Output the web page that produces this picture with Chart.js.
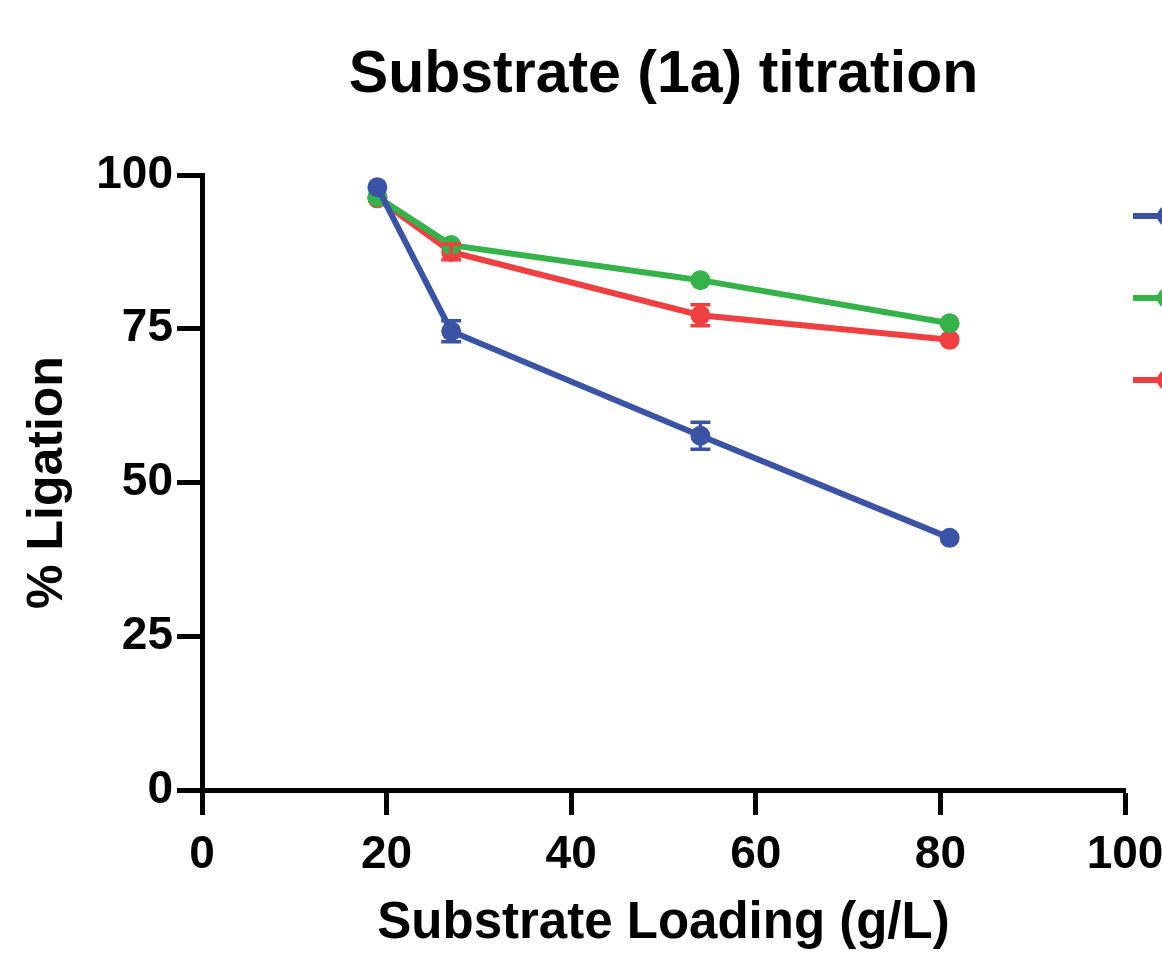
<!DOCTYPE html>
<html>
<head>
<meta charset="utf-8">
<script src="https://cdn.jsdelivr.net/npm/chart.js@4.4.1/dist/chart.umd.min.js"></script>
<style>
  html, body { margin: 0; padding: 0; background: #ffffff; overflow: hidden; }
  #wrap { width: 1162px; height: 960px; position: relative; }
</style>
</head>
<body>
<div id="wrap"><canvas id="c" width="1162" height="960"></canvas></div>
<script>
// ---- data ----
const titleText = "Substrate (1a) titration";
const xTitle = "Substrate Loading (g/L)";
const yTitle = "% Ligation";
const loadings = [19, 27, 54, 81];
const seriesLabels = ["Series 1", "Series 2", "Series 3"];
const blueValues = [98.0, 74.6, 57.6, 41.0];
const blueErrors = [0, 1.7, 2.2, 0];
const greenValues = [96.4, 88.6, 82.9, 75.9];
const greenErrors = [0, 0, 0, 0];
const redValues = [96.2, 87.5, 77.2, 73.2];
const redErrors = [0, 1.3, 1.7, 0];
const xTicks = [0, 20, 40, 60, 80, 100];
const yTicks = [0, 25, 50, 75, 100];

const colors = ["#3A53A4", "#35B34A", "#EE4040"];
const FONT = "'Liberation Sans', Arial, Helvetica, sans-serif";

function pts(vals) { return loadings.map((x, i) => ({ x: x, y: vals[i] })); }

const allValues = [blueValues, greenValues, redValues];
const allErrors = [blueErrors, greenErrors, redErrors];

const datasets = allValues.map((v, i) => ({
  label: seriesLabels[i],
  data: pts(v),
  borderColor: colors[i],
  backgroundColor: colors[i],
  borderWidth: 6,
  pointRadius: 10,
  pointHoverRadius: 10,
  pointBorderWidth: 0,
  tension: 0,
  errors: allErrors[i]
}));

const errorBarPlugin = {
  id: 'errorBars',
  afterDatasetsDraw(chart) {
    const ctx = chart.ctx;
    const xs = chart.scales.x, ys = chart.scales.y;
    ctx.save();
    chart.data.datasets.forEach((ds, di) => {
      ds.data.forEach((p, i) => {
        const e = ds.errors[i];
        if (!e) return;
        const px = xs.getPixelForValue(p.x);
        const y1 = ys.getPixelForValue(p.y + e);
        const y2 = ys.getPixelForValue(p.y - e);
        ctx.strokeStyle = ds.borderColor;
        ctx.lineWidth = 3.5;
        ctx.beginPath();
        ctx.moveTo(px, y1); ctx.lineTo(px, y2);
        ctx.moveTo(px - 10, y1); ctx.lineTo(px + 10, y1);
        ctx.moveTo(px - 10, y2); ctx.lineTo(px + 10, y2);
        ctx.stroke();
      });
    });
    ctx.restore();
  }
};

const titleLegendPlugin = {
  id: 'titleLegend',
  afterDraw(chart) {
    const ctx = chart.ctx;
    const a = chart.chartArea;
    ctx.save();
    ctx.fillStyle = '#000';
    ctx.font = "bold 59px " + FONT;
    ctx.textAlign = 'center';
    ctx.textBaseline = 'middle';
    ctx.fillText(titleText, (a.left + a.right) / 2, 76);
    // legend markers (labels lie beyond the visible page)
    const lx = a.right + 8;
    chart.data.datasets.forEach((ds, i) => {
      const y = a.top + 41 + i * 82;
      ctx.strokeStyle = ds.borderColor;
      ctx.lineWidth = 6;
      ctx.beginPath();
      ctx.moveTo(lx, y); ctx.lineTo(lx + 34, y);
      ctx.stroke();
      ctx.fillStyle = ds.backgroundColor;
      ctx.beginPath();
      ctx.arc(lx + 34, y, 10, 0, Math.PI * 2);
      ctx.fill();
    });
    ctx.restore();
  }
};

new Chart(document.getElementById('c'), {
  type: 'line',
  data: { datasets: datasets },
  options: {
    responsive: false,
    animation: false,
    layout: { padding: { top: 175, right: 37, left: 0, bottom: 0 } },
    plugins: {
      legend: { display: false },
      title: { display: false },
      tooltip: { enabled: false }
    },
    scales: {
      x: {
        type: 'linear',
        min: 0, max: 100,
        afterBuildTicks: s => { s.ticks = xTicks.map(v => ({ value: v })); },
        afterFit: s => { s.height = 170; s.paddingLeft = 0; s.paddingRight = 0; },
        grid: { drawOnChartArea: false, drawTicks: true, tickLength: 25, tickWidth: 5, tickColor: '#000' },
        border: { display: true, width: 5, color: '#000' },
        ticks: { color: '#000', padding: 13, font: { family: FONT, size: 46, weight: 'bold' }, maxRotation: 0 },
        title: { display: true, text: xTitle, color: '#000', font: { family: FONT, size: 51, weight: 'bold', lineHeight: 1.2 }, padding: { top: 0, bottom: 5 } }
      },
      y: {
        type: 'linear',
        min: 0, max: 100,
        afterBuildTicks: s => { s.ticks = yTicks.map(v => ({ value: v })); },
        afterFit: s => { s.width = 202; s.paddingTop = 0; s.paddingBottom = 0; },
        grid: { drawOnChartArea: false, drawTicks: true, tickLength: 25, tickWidth: 5, tickColor: '#000' },
        border: { display: true, width: 5, color: '#000' },
        ticks: { color: '#000', padding: 4, font: { family: FONT, size: 46, weight: 'bold' } },
        title: { display: true, text: yTitle, color: '#000', font: { family: FONT, size: 50, weight: 'bold', lineHeight: 1.2 }, padding: { top: 18, bottom: 0 } }
      }
    }
  },
  plugins: [errorBarPlugin, titleLegendPlugin]
});
</script>
</body>
</html>
